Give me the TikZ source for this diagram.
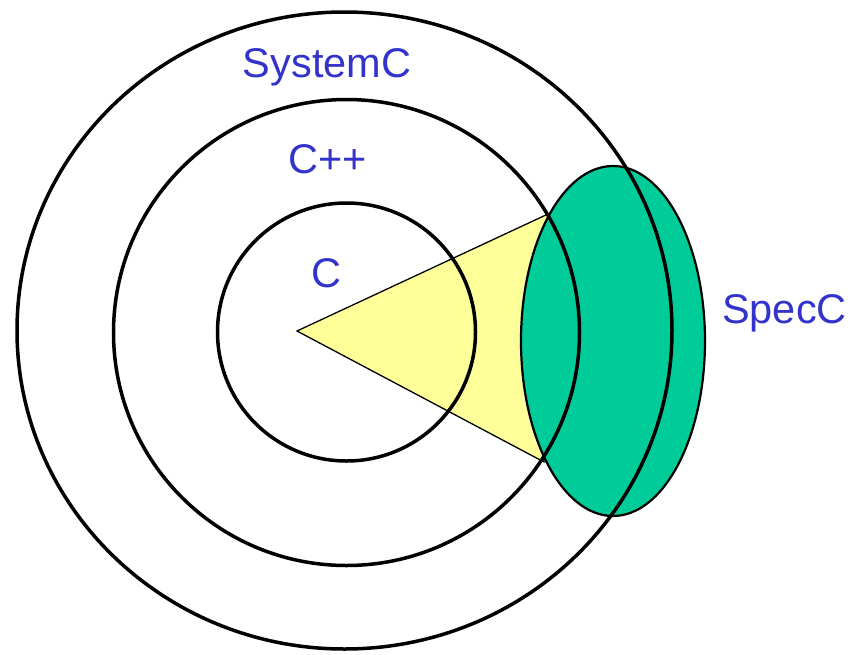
\documentclass[tikz,border=0pt]{standalone}
\usepackage{fontspec}
\setmainfont{Liberation Sans}
\definecolor{lblue}{HTML}{3333CC}
\definecolor{lyellow}{HTML}{FFFF99}
\definecolor{lgreen}{HTML}{00CC99}
\tikzset{
  ring/.style={draw=black, line width=3.5pt},
  lbl/.style={text=lblue, font=\fontsize{41.5}{41.5}\selectfont, anchor=base, inner sep=0pt},
}
\begin{document}
\begin{tikzpicture}[x=1pt,y=-1pt]
\useasboundingbox (0,0) rectangle (855,654);
% triangle
\draw[fill=lyellow, line width=1.3pt, line join=miter] (297,331) -- (548,214) -- (544,462) -- cycle;
% SpecC ellipse
\draw[fill=lgreen, line width=2.2pt] (613,341) ellipse [x radius=92, y radius=175];
% circles
\draw[ring] (344.5,330.5) ellipse [x radius=327.5, y radius=318.5];
\draw[ring] (346.5,332.5) circle [radius=233];
\draw[ring] (346.5,332) circle [radius=129];
% labels
\node[lbl] (sysc) at (327,77) {SystemC};
\node[lbl] (cpp) at (328,173) {C++};
\node[lbl] (c) at (326,287) {C};
\node[lbl] (specc) at (784.5,323) {SpecC};
\end{tikzpicture}
\end{document}
